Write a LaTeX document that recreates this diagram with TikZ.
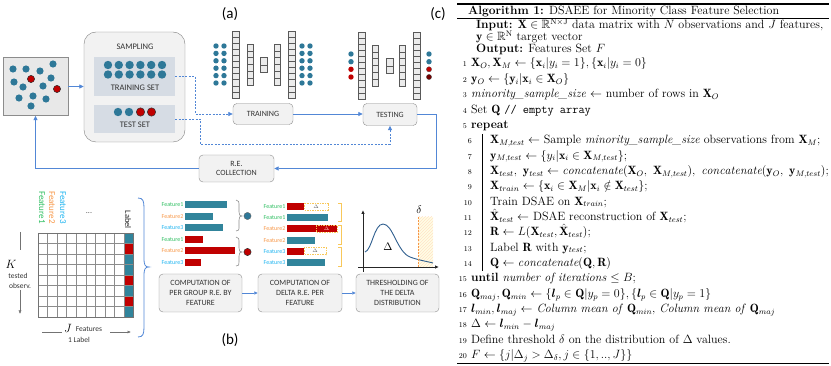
\documentclass[tikz,border=0pt]{standalone}
\usepackage{amsmath,amssymb,bm}
\usepackage{fontspec}
\newfontfamily\carl{Carlito}
\usetikzlibrary{arrows.meta,patterns}
\definecolor{dotblue}{HTML}{2E7898}
\definecolor{barblue}{HTML}{31849B}
\definecolor{dred}{HTML}{C00000}
\definecolor{conn}{HTML}{5287D6}
\definecolor{boxgray}{HTML}{F2F2F2}
\definecolor{setgray}{HTML}{D6DCE4}
\definecolor{fgreen}{HTML}{2DBE60}
\definecolor{forange}{HTML}{F79646}
\definecolor{fblue}{HTML}{1EB4F0}
\definecolor{bracketc}{HTML}{F8C85A}
\definecolor{curvec}{HTML}{2E5E8E}
\newcommand{\aecol}[5]{\foreach \i in {1,...,#4}{\draw[cellst] (#1,{#2+(\i-1)*#5}) rectangle ++(#3,#5);}}
\tikzset{
  cellst/.style={draw=black!65,fill=black!8,line width=0.45pt},
  procbox/.style={draw=black!45,fill=boxgray,rounded corners=4pt,font=\carl\fontsize{8}{9.8}\selectfont,text=black!80,align=center,inner sep=1pt},
  connarrow/.style={draw=conn,line width=0.8pt,-{Triangle[length=4.5pt,width=4pt]}},
  dashconn/.style={draw=conn,line width=0.7pt,dash pattern=on 2pt off 1.4pt,-{Triangle[length=4.5pt,width=4pt]}},
  panlab/.style={font=\carl\fontsize{15}{17}\selectfont},
  flab/.style={font=\carl\fontsize{6}{7}\selectfont,anchor=east,inner sep=0.5pt},
  smalltxt/.style={font=\carl\fontsize{7.5}{9}\selectfont,text=black!80,inner sep=0pt},
  algo/.style={anchor=base west,inner sep=0pt,text height=8.5pt,text depth=2.5pt,font=\fontsize{12}{14}\selectfont},
  lnum/.style={anchor=base east,inner sep=0pt,font=\fontsize{7.5}{8}\selectfont},
}
\begin{document}
\begin{tikzpicture}[x=1pt,y=-1pt]
\useasboundingbox (0,0) rectangle (831,366);
% ---------------- panel (a) ----------------
\node[panlab] (la) at (230,14) {(a)};
\node[draw=black!45,fill=black!9,minimum width=65pt,minimum height=58pt,inner sep=0pt] (scatter) at (35.5,86.5) {};
\foreach \x/\y in {13/69,26/69,40/71,53/64,14/82,23/87,43/86,51/78,19/98,33/96,46/99,31/106}
  \fill[dotblue] (\x,\y) circle (3.6);
\foreach \x/\y in {31/79,57/89}
  \filldraw[fill=dred,draw=black!80,line width=0.5pt] (\x,\y) circle (3.6);
\node[draw=black!50,fill=boxgray,rounded corners=12pt,minimum width=101pt,minimum height=110pt,inner sep=0pt] (sampling) at (134.5,87) {};
\node[font=\carl\fontsize{8.5}{10}\selectfont,text=black!80] (samplab) at (135,47) {SAMPLING};
\node[fill=setgray,minimum width=81pt,minimum height=39pt,inner sep=0pt] (trainset) at (134.5,76.5) {};
\node[fill=setgray,minimum width=81pt,minimum height=28pt,inner sep=0pt] (testset) at (134.5,119) {};
\foreach \i in {0,...,5}{
  \fill[dotblue] ({108+10.8*\i},65) circle (4.2);
  \fill[dotblue] ({108+10.8*\i},74.5) circle (4.2);}
\node[font=\carl\fontsize{8.5}{10}\selectfont,text=black!80] (trainlab) at (135,87.5) {TRAINING SET};
\fill[dotblue] (118,112) circle (4.2);
\fill[dotblue] (129,112) circle (4.2);
\filldraw[fill=dred,draw=black!80,line width=0.5pt] (140.5,112) circle (4.2);
\filldraw[fill=dred,draw=black!80,line width=0.5pt] (151.5,112) circle (4.2);
\node[font=\carl\fontsize{8.5}{10}\selectfont,text=black!80] (testlab) at (135,125) {TEST SET};
% autoencoder training
\aecol{232}{31}{7.5}{11}{6.09}
\aecol{247}{44}{6.5}{6}{6.83}
\aecol{260}{57.5}{7}{2}{7.5}
\aecol{274}{44}{6.5}{6}{6.83}
\aecol{288}{31}{7.5}{11}{6.09}
\foreach \i in {0,...,5}{
  \fill[dotblue] (216,{46+7.4*\i}) circle (2.7);
  \fill[dotblue] (224,{46+7.4*\i}) circle (2.7);
  \fill[dotblue] (302,{46+7.4*\i}) circle (2.7);
  \fill[dotblue] (310,{46+7.4*\i}) circle (2.7);}
% autoencoder testing
\aecol{358}{32}{7}{11}{6.09}
\aecol{372}{45}{6.5}{6}{6.83}
\aecol{386}{58.5}{7}{2}{7.5}
\aecol{399}{45}{6.5}{6}{6.83}
\aecol{413}{32}{7}{11}{6.09}
\fill[dotblue] (351,54) circle (2.7); \fill[dotblue] (351,61.7) circle (2.7);
\fill[dred] (351,69.3) circle (2.7); \fill[dred] (351,77) circle (2.7);
\fill[dotblue] (429,54) circle (2.7); \fill[dotblue] (429,61.7) circle (2.7);
\filldraw[fill=dred,draw=black!70,line width=0.3pt] (429,69.3) circle (2.6);
\filldraw[fill=dred!60!black,draw=black!70,line width=0.3pt] (429,77) circle (2.6);
% process boxes (a)
\node[procbox,minimum width=60pt,minimum height=21pt] (training) at (263,114) {TRAINING};
\node[procbox,minimum width=54pt,minimum height=22pt] (testing) at (390,114.5) {TESTING};
\node[procbox,minimum width=75pt,minimum height=27pt] (recoll) at (236.5,168.5) {R.E.\\COLLECTION};
\coordinate (dtc) at (390,144);
% connectors (a)
\draw[connarrow] (scatter.east) -- (scatter.east -| sampling.west);
\draw[dashconn] (trainset.east) -- ++(20,0) |- (training.west);
\draw[dashconn] (testset.east) -- ++(25,0) |- (dtc) -- (testing.south);
\draw[connarrow] (training.east) -- (training.east -| testing.west);
\draw[connarrow] (testing.east) -- ++(19,0) |- (recoll.east);
\draw[connarrow] (recoll.west) -| (scatter.south);
% ---------------- panel (b) ----------------
\node[panlab] (lb) at (230,340) {(b)};
% matrix
\foreach \r/\c in {0/barblue,1/dred,2/barblue,3/barblue,4/dred,5/barblue,6/dred,7/barblue}
  \fill[\c] (124,{233+10.5*\r}) rectangle (133,{233+10.5*(\r+1)});
\foreach \i in {0,...,9} \draw[black!45,line width=0.4pt] ({38+9.556*\i},233) -- ({38+9.556*\i},317);
\foreach \r in {0,...,8} \draw[black!45,line width=0.4pt] (38,{233+10.5*\r}) -- (133,{233+10.5*\r});
\draw[black!55,line width=0.5pt] (38,233) rectangle (133,317);
\node[rotate=-90,anchor=west,font=\carl\fontsize{9}{10}\selectfont,text=fgreen,inner sep=0pt] (f1) at (42,191) {Feature1};
\node[rotate=-90,anchor=west,font=\carl\fontsize{9}{10}\selectfont,text=forange,inner sep=0pt] (f2) at (52,191) {Feature2};
\node[rotate=-90,anchor=west,font=\carl\fontsize{9}{10}\selectfont,text=fblue,inner sep=0pt] (f3) at (63,191) {Feature3};
\node[font=\carl\fontsize{8}{9}\selectfont,text=black!70] (dots) at (89,213) {...};
\node[rotate=-90,anchor=east,font=\carl\fontsize{8.5}{10}\selectfont,text=black!85,inner sep=0pt] (lablab) at (128,229) {Label};
\node[font=\fontsize{12}{14}\selectfont,inner sep=0pt] (K) at (11,264) {$K$};
\node[smalltxt] (tested) at (18,276) {tested};
\node[smalltxt] (observ) at (20,286) {observ.};
\coordinate (ka) at (20,232); \coordinate (kb) at (20,250);
\coordinate (kc) at (20,290); \coordinate (kd) at (20,314);
\draw[black!55,line width=0.5pt] (ka) -- (kb);
\draw[black!55,line width=0.5pt,-{Latex[length=3.5pt,width=3pt]}] (kc) -- (kd);
\node[font=\fontsize{12}{14}\selectfont,inner sep=0pt] (J) at (68,328) {$J$};
\node[smalltxt] (featlab) at (89,329) {Features};
\node[smalltxt] (onelab) at (79,340) {1 Label};
\coordinate (ja) at (42,332); \coordinate (jb) at (62,332);
\coordinate (jc) at (110,332); \coordinate (jd) at (131,332);
\draw[black!55,line width=0.5pt] (ja) -- (jb);
\draw[black!55,line width=0.5pt,-{Latex[length=3.5pt,width=3pt]}] (jc) -- (jd);
% big brace
\draw[conn,line width=0.8pt] (138,198) .. controls (143,198) and (144,201) .. (144,208) -- (144,258) .. controls (144,265) and (145,267) .. (149,267) .. controls (145,267) and (144,269) .. (144,276) -- (144,327) .. controls (144,334) and (143,337) .. (138,337);
% left bar group
\foreach \y/\c/\t/\b/\e in {204.5/fgreen/Feature1/barblue/227,216.1/forange/Feature2/barblue/213,227.7/fblue/Feature3/barblue/223,239.3/fgreen/Feature1/dred/203,250.9/forange/Feature2/dred/235,262.5/fblue/Feature3/dred/201}{
  \node[flab,text=\c] at (184,\y) {\t};
  \fill[\b] (185,{\y-3.5}) rectangle (\e,{\y+3.5});}
\draw[black!45,line width=0.6pt] (236,200) .. controls (239,200) and (239,202) .. (239,206) -- (239,212) .. controls (239,215) and (240,216) .. (242,216) .. controls (240,216) and (239,217) .. (239,220) -- (239,226) .. controls (239,230) and (239,231) .. (236,231);
\draw[black!45,line width=0.6pt] (236,237) .. controls (239,237) and (239,239) .. (239,243) -- (239,248) .. controls (239,251) and (240,252) .. (242,252) .. controls (240,252) and (239,253) .. (239,256) -- (239,262) .. controls (239,265) and (239,266) .. (236,266);
\filldraw[fill=dotblue,draw=black!60,line width=0.4pt] (247.5,216) circle (3.6);
\filldraw[fill=dred,draw=black!80,line width=0.5pt] (247.5,252) circle (3.6);
% middle bar group
\foreach \y/\c/\t/\b/\e in {206.5/fgreen/Feature1/dred/304,217.7/fgreen/Feature1/barblue/328,228.9/forange/Feature2/dred/337,240.1/forange/Feature2/barblue/315,251.3/fblue/Feature3/dred/304,262.5/fblue/Feature3/barblue/325}{
  \node[flab,text=\c] at (286,\y) {\t};
  \fill[\b] (287,{\y-3.5}) rectangle (\e,{\y+3.5});}
\draw[bracketc,line width=0.7pt,dash pattern=on 1.5pt off 1pt] (304,203) rectangle (328,210);
\node[font=\fontsize{5}{6}\selectfont,text=black!60,inner sep=0pt] at (316,206.5) {$\Delta$};
\draw[bracketc,line width=0.7pt,dash pattern=on 1.5pt off 1pt] (316,225.4) rectangle (337,232.4);
\node[font=\fontsize{5}{6}\selectfont,text=white!80!red,inner sep=0pt] at (326.5,228.9) {$\Delta$};
\draw[bracketc,line width=0.7pt,dash pattern=on 1.5pt off 1pt] (304,247.8) rectangle (326,254.8);
\node[font=\fontsize{5}{6}\selectfont,text=black!60,inner sep=0pt] at (315,251.3) {$\Delta$};
\draw[bracketc,line width=0.7pt] (338,203) -- (341,203) -- (341,221) -- (338,221);
\draw[bracketc,line width=0.7pt] (338,225) -- (341,225) -- (341,244) -- (338,244);
\draw[bracketc,line width=0.7pt] (338,247) -- (341,247) -- (341,266) -- (338,266);
% distribution plot
\fill[yellow!10] (418,217) rectangle (433,267);
\fill[pattern=north east lines,pattern color=orange!22] (418,217) rectangle (433,267);
\draw[black!85,line width=0.8pt,-{Latex[length=4pt,width=3.5pt]}] (363,272) -- (363,210);
\draw[black!85,line width=0.8pt,-{Latex[length=4pt,width=3.5pt]}] (358,267) -- (439,267);
\draw[curvec,line width=0.9pt] (365,252) .. controls (372,250) and (374,224) .. (383,224) .. controls (393,224) and (397,252) .. (410,257) .. controls (418,260) and (425,261) .. (433,263);
\draw[forange,line width=1pt,dash pattern=on 2pt off 1.2pt] (418,217) -- (418,267);
\node[font=\fontsize{11}{13}\selectfont,inner sep=0pt] (DeltaLab) at (388,247) {$\Delta$};
\node[font=\fontsize{11}{13}\selectfont,inner sep=0pt] (deltaLab) at (419,210) {$\delta$};
% process boxes (b)
\node[procbox,minimum width=83pt,minimum height=38pt] (box1) at (200.5,293) {COMPUTATION OF\\PER GROUP R.E. BY\\FEATURE};
\node[procbox,minimum width=84pt,minimum height=38pt] (box2) at (300,293) {COMPUTATION OF\\DELTA R.E. PER\\FEATURE};
\node[procbox,minimum width=83pt,minimum height=38pt] (box3) at (397.5,293) {THRESHOLDING OF\\THE DELTA\\DISTRIBUTION};
\draw[draw=conn,line width=0.7pt,-{Triangle[length=3.5pt,width=3pt]}] (box1.east) -- (box2.west);
\draw[draw=conn,line width=0.7pt,-{Triangle[length=3.5pt,width=3pt]}] (box2.east) -- (box3.west);
% ---------------- panel (c) ----------------
\node[panlab] (lc) at (438,14) {(c)};
\draw[line width=1.1pt] (457,4) -- (829,4);
\draw[line width=0.6pt] (457,18) -- (829,18);
\draw[line width=0.8pt] (457,363) -- (829,363);
\node[algo] (title) at (468,14.5) {\textbf{Algorithm 1:} DSAEE for Minority Class Feature Selection};
\node[algo] (inp) at (476,29) {\textbf{Input:} $\mathbf{X}\in\mathbb{R}^{\mathrm{N}\times\mathrm{J}}$ data matrix with $N$ observations and $J$ features,};
\node[algo] (inp2) at (476,41) {$\mathbf{y}\in\mathbb{R}^{\mathrm{N}}$ target vector};
\node[algo] (outp) at (476,52.5) {\textbf{Output:} Features Set $F$};
\foreach \k/\xn/\xc/\t in {
 1/467/471/{$\mathbf{X}_O,\mathbf{X}_M\leftarrow\{\mathbf{x}_i|y_i=1\},\{\mathbf{x}_i|y_i=0\}$},
 2/467/471/{$\mathbf{y}_O\leftarrow\{\mathbf{y}_i|\mathbf{x}_i\in\mathbf{X}_O\}$},
 3/467/471/{\textit{minority\_sample\_size} $\leftarrow$ number of rows in $\mathbf{X}_O$},
 4/467/471/{Set $\mathbf{Q}$ \texttt{// empty array}},
 5/467/471/{\textbf{repeat}},
 6/472/490/{$\mathbf{X}_{M,test}\leftarrow$ Sample \textit{minority\_sample\_size} observations from $\mathbf{X}_M$;},
 7/472/490/{$\mathbf{y}_{M,test}\leftarrow\{y_i|\mathbf{x}_i\in\mathbf{X}_{M,test}\}$;},
 8/472/490/{$\mathbf{X}_{test},\ \mathbf{y}_{test}\leftarrow\mathit{concatenate}(\mathbf{X}_O,\ \mathbf{X}_{M,test}),\ \mathit{concatenate}(\mathbf{y}_O,\ \mathbf{y}_{M,test})$;},
 9/472/490/{$\mathbf{X}_{train}\leftarrow\{\mathbf{x}_i\in\mathbf{X}_M|\mathbf{x}_i\notin\mathbf{X}_{test}\}$;},
 10/472/490/{Train DSAE on $\mathbf{X}_{train}$;},
 11/472/490/{$\hat{\mathbf{X}}_{test}\leftarrow$ DSAE reconstruction of $\mathbf{X}_{test}$;},
 12/472/490/{$\mathbf{R}\leftarrow L(\mathbf{X}_{test},\hat{\mathbf{X}}_{test})$;},
 13/472/490/{Label $\mathbf{R}$ with $\mathbf{y}_{test}$;},
 14/472/490/{$\mathbf{Q}\leftarrow\mathit{concatenate}(\mathbf{Q},\mathbf{R})$},
 15/467/471/{\textbf{until} \textit{number of iterations} $\leq B$;},
 16/467/471/{$\mathbf{Q}_{maj},\mathbf{Q}_{min}\leftarrow\{\bm{l}_p\in\mathbf{Q}|y_p=0\},\{\bm{l}_p\in\mathbf{Q}|y_p=1\}$},
 17/467/471/{$\bm{l}_{min},\bm{l}_{maj}\leftarrow$ \textit{Column mean of} $\mathbf{Q}_{min}$, \textit{Column mean of} $\mathbf{Q}_{maj}$},
 18/467/471/{$\Delta\leftarrow\bm{l}_{min}-\bm{l}_{maj}$},
 19/467/471/{Define threshold $\delta$ on the distribution of $\Delta$ values.},
 20/467/471/{$F\leftarrow\{j|\Delta_j>\Delta_\delta,j\in\{1,..,J\}\}$}}{
  \node[lnum] (n\k) at (\xn,{67+(\k-1)*15.35}) {\k};
  \node[algo] (a\k) at (\xc,{67+(\k-1)*15.35}) {\t};}
\draw[line width=0.5pt] (482,134) -- (482,271);
\end{tikzpicture}
\end{document}
